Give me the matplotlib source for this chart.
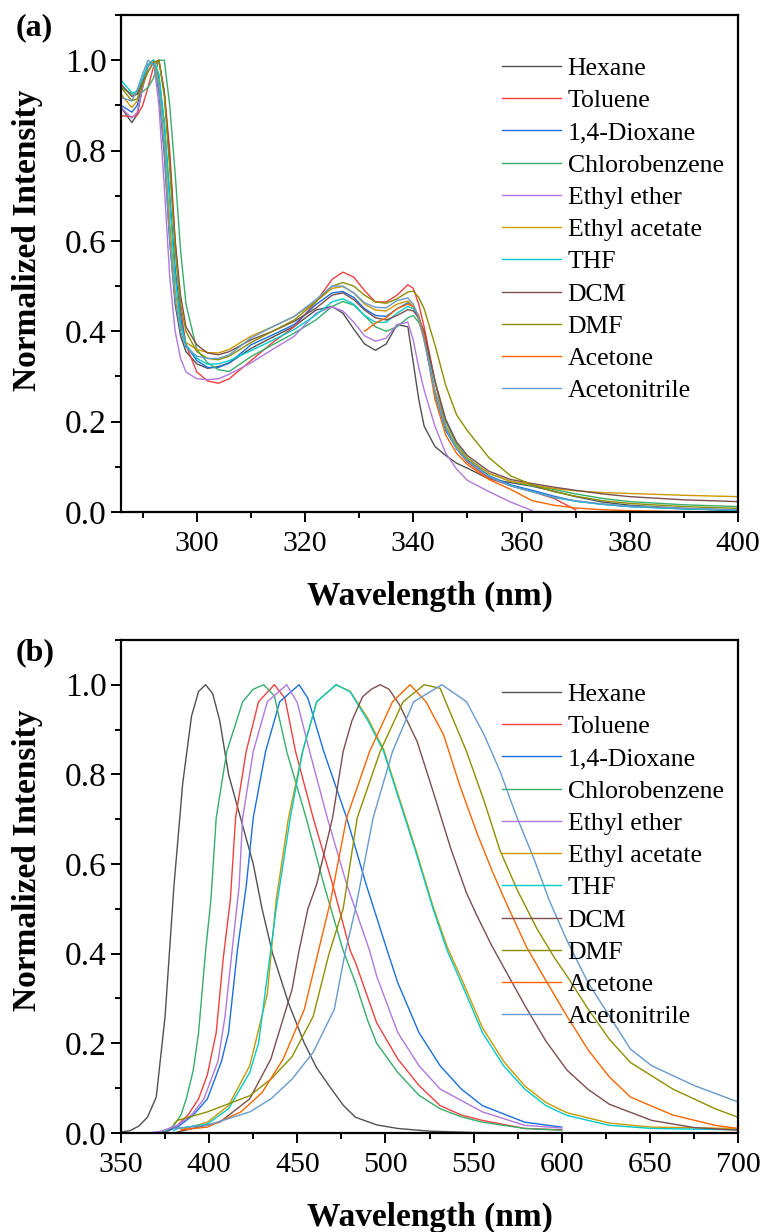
# -*- coding: utf-8 -*-

import numpy as np
import matplotlib
matplotlib.use('Agg')
import matplotlib.pyplot as plt
from matplotlib.ticker import MultipleLocator

plt.rcParams['font.family'] = ['Liberation Serif', 'DejaVu Serif']

nan = np.nan

solvents = ['Hexane', 'Toluene', '1,4-Dioxane', 'Chlorobenzene', 'Ethyl ether',
            'Ethyl acetate', 'THF', 'DCM', 'DMF', 'Acetone', 'Acetonitrile']
colors = ['#515151', '#F14040', '#1A6FDF', '#37AD6B', '#B177DE',
          '#CC9900', '#00CBCC', '#7D4E4E', '#8E8E00', '#FB6501', '#6699CC']

# (a) absorption, shared wavelength grid
wl_abs = [286, 288, 289, 290, 291, 292, 293, 294, 295, 296, 297, 298, 300, 302, 304,
          306, 310, 314, 318, 322, 325, 327, 329, 331, 333, 335, 337, 339, 340, 341,
          342, 344, 346, 348, 350, 354, 358, 362, 366, 370, 375, 380, 390, 400]

abs_hexane = [0.896, 0.862, 0.88, 0.94, 0.99, 1.0, 0.93, 0.79, 0.60, 0.46, 0.39, 0.355, 0.328, 0.318, 0.322,
              0.330, 0.362, 0.387, 0.411, 0.447, 0.455, 0.44, 0.405, 0.372, 0.358, 0.372, 0.415, 0.41, 0.33, 0.25,
              0.19, 0.145, 0.125, 0.108, 0.097, 0.073, 0.065, 0.057, 0.046, 0.034, 0.022, 0.015, 0.008, 0.003]
abs_toluene = [0.877, 0.875, 0.878, 0.90, 0.94, 0.985, 1.0, 0.93, 0.80, 0.60, 0.45, 0.37, 0.31, 0.29, 0.285,
               0.295, 0.335, 0.375, 0.41, 0.465, 0.515, 0.531, 0.52, 0.49, 0.465, 0.465, 0.48, 0.503, 0.495, 0.46,
               0.41, 0.29, 0.19, 0.14, 0.11, 0.075, 0.058, 0.045, 0.03, 0.005, nan, nan, nan, nan]
abs_dioxane = [0.90, 0.885, 0.90, 0.95, 0.99, 1.0, 0.96, 0.86, 0.70, 0.54, 0.43, 0.37, 0.335, 0.32, 0.32,
               0.33, 0.37, 0.392, 0.415, 0.459, 0.485, 0.488, 0.475, 0.45, 0.435, 0.433, 0.45, 0.463, 0.455, 0.43,
               0.39, 0.26, 0.18, 0.14, 0.115, 0.08, 0.06, 0.048, 0.035, 0.024, 0.017, 0.012, 0.007, 0.004]
abs_chlorobenzene = [0.94, 0.925, 0.925, 0.93, 0.94, 0.96, 1.0, 1.0, 0.90, 0.75, 0.58, 0.46, 0.36, 0.33, 0.315,
                     0.311, 0.344, 0.37, 0.396, 0.425, 0.455, 0.466, 0.458, 0.435, 0.41, 0.40, 0.41, 0.43, 0.435, 0.42,
                     0.39, 0.29, 0.20, 0.15, 0.12, 0.085, 0.068, 0.058, 0.05, 0.04, 0.03, 0.023, 0.016, 0.012]
abs_ether = [0.895, 0.872, 0.885, 0.94, 0.985, 1.0, 0.90, 0.72, 0.52, 0.40, 0.34, 0.31, 0.295, 0.293, 0.295,
             0.305, 0.33, 0.36, 0.389, 0.44, 0.454, 0.445, 0.42, 0.39, 0.378, 0.385, 0.415, 0.42, 0.38, 0.32,
             0.27, 0.19, 0.13, 0.095, 0.07, 0.045, 0.022, 0.003, nan, nan, nan, nan, nan, nan]
abs_acetate = [0.925, 0.895, 0.91, 0.96, 0.99, 1.0, 0.95, 0.82, 0.64, 0.49, 0.41, 0.375, 0.36, 0.353, 0.352,
               0.36, 0.389, 0.41, 0.433, 0.466, 0.495, 0.499, 0.485, 0.46, 0.447, 0.445, 0.46, 0.467, 0.455, 0.425,
               0.38, 0.27, 0.19, 0.145, 0.118, 0.085, 0.068, 0.06, 0.052, 0.047, 0.043, 0.041, 0.037, 0.034]
abs_thf = [0.956, 0.928, 0.93, 0.96, 0.99, 1.0, 0.97, 0.86, 0.69, 0.52, 0.42, 0.37, 0.34, 0.327, 0.328,
           0.335, 0.357, 0.38, 0.404, 0.436, 0.465, 0.472, 0.46, 0.435, 0.42, 0.42, 0.44, 0.455, 0.45, 0.43,
           0.39, 0.265, 0.185, 0.14, 0.113, 0.078, 0.058, 0.045, 0.032, 0.024, 0.017, 0.012, 0.007, 0.004]
abs_dcm = [0.947, 0.92, 0.925, 0.95, 0.975, 0.995, 1.0, 0.93, 0.78, 0.60, 0.48, 0.41, 0.37, 0.352, 0.348,
           0.355, 0.381, 0.40, 0.422, 0.451, 0.48, 0.485, 0.47, 0.447, 0.43, 0.425, 0.435, 0.448, 0.445, 0.43,
           0.40, 0.29, 0.205, 0.155, 0.125, 0.09, 0.072, 0.063, 0.055, 0.048, 0.04, 0.034, 0.027, 0.023]
abs_dmf = [0.94, 0.91, 0.915, 0.945, 0.975, 0.995, 1.0, 0.92, 0.76, 0.58, 0.46, 0.40, 0.355, 0.34, 0.337,
           0.345, 0.375, 0.40, 0.425, 0.465, 0.50, 0.508, 0.50, 0.48, 0.465, 0.462, 0.472, 0.487, 0.489, 0.475,
           0.45, 0.37, 0.28, 0.215, 0.18, 0.12, 0.08, 0.06, 0.045, 0.035, 0.025, 0.019, 0.012, 0.008]
abs_acetone = [nan, nan, nan, nan, nan, nan, nan, nan, nan, nan, nan, nan, nan, nan, nan,
               nan, nan, nan, nan, nan, nan, nan, nan, 0.40, 0.418, 0.43, 0.45, 0.46, 0.455, 0.435,
               0.39, 0.25, 0.17, 0.13, 0.105, 0.072, 0.05, 0.025, 0.015, 0.009, 0.005, 0.003, 0.001, 0.0]
abs_acetonitrile = [0.917, 0.91, 0.935, 0.97, 1.0, 0.99, 0.94, 0.80, 0.60, 0.47, 0.40, 0.365, 0.345, 0.34, 0.34,
                    0.348, 0.385, 0.41, 0.433, 0.47, 0.50, 0.50, 0.485, 0.463, 0.453, 0.452, 0.468, 0.474, 0.46, 0.43,
                    0.38, 0.265, 0.185, 0.14, 0.113, 0.078, 0.058, 0.045, 0.033, 0.025, 0.018, 0.013, 0.008, 0.005]

abs_all = [abs_hexane, abs_toluene, abs_dioxane, abs_chlorobenzene, abs_ether, abs_acetate,
           abs_thf, abs_dcm, abs_dmf, abs_acetone, abs_acetonitrile]

# (b) emission, each solvent with its own wavelength points
wl_hexane = [350, 355, 360, 365, 370, 375, 380, 385, 390, 394, 398, 402, 406, 411, 418, 425, 430, 436,
             445, 454, 461, 469, 476, 483, 495, 507, 525, 550, 575, 600]
pl_hexane = [0.002, 0.005, 0.015, 0.035, 0.08, 0.26, 0.55, 0.78, 0.93, 0.985, 1.0, 0.98, 0.92, 0.8, 0.7, 0.6, 0.5, 0.4,
             0.29, 0.2, 0.145, 0.1, 0.062, 0.035, 0.018, 0.01, 0.004, 0.001, 0.0, 0.0]
wl_toluene = [375, 382, 388, 394, 399, 404, 408, 412, 415, 421, 428, 437, 443, 449, 459, 470, 480, 483,
              495, 507, 519, 531, 543, 555, 579, 600]
pl_toluene = [0.0, 0.017, 0.04, 0.076, 0.13, 0.224, 0.39, 0.52, 0.703, 0.851, 0.962, 1.0, 0.97, 0.851, 0.703, 0.555, 0.407, 0.38,
              0.246, 0.165, 0.106, 0.061, 0.04, 0.028, 0.01, 0.007]
wl_dioxane = [370, 375, 382, 391, 399, 407, 411, 416, 421, 425, 432, 440, 451, 456, 465, 478, 489, 501,
              507, 519, 531, 543, 555, 579, 600]
pl_dioxane = [0.0, 0.003, 0.013, 0.04, 0.076, 0.16, 0.224, 0.407, 0.55, 0.703, 0.851, 0.962, 1.0, 0.97, 0.851, 0.703, 0.555, 0.407,
              0.335, 0.224, 0.15, 0.098, 0.061, 0.024, 0.013]
wl_chlorobenzene = [370, 376, 380, 384, 387, 391, 394, 398, 401, 404, 410, 419, 425, 431, 437, 444, 450, 455,
                    465, 476, 483, 490, 495, 507, 519, 531, 543, 555, 579, 600]
pl_chlorobenzene = [0.0, 0.005, 0.017, 0.04, 0.076, 0.14, 0.224, 0.407, 0.52, 0.703, 0.851, 0.962, 0.99, 1.0, 0.975, 0.851, 0.77, 0.703,
                    0.555, 0.407, 0.335, 0.25, 0.2, 0.135, 0.084, 0.054, 0.036, 0.024, 0.01, 0.006]
wl_ether = [365, 372, 382, 390, 397, 405, 409, 413, 417, 419, 425, 433, 444, 450, 457, 467, 478, 491,
            495, 507, 519, 531, 555, 579, 600]
pl_ether = [0.0, 0.003, 0.017, 0.04, 0.076, 0.16, 0.26, 0.407, 0.55, 0.703, 0.851, 0.962, 1.0, 0.96, 0.851, 0.703, 0.555, 0.407,
            0.35, 0.224, 0.15, 0.098, 0.047, 0.017, 0.011]
wl_acetate = [384, 399, 411, 423, 433, 438, 445, 453, 461, 472, 480, 490, 499, 508, 517, 527, 535, 543,
              555, 567, 579, 591, 603, 627, 651, 700]
pl_acetate = [0.007, 0.024, 0.061, 0.15, 0.31, 0.52, 0.703, 0.851, 0.962, 1.0, 0.985, 0.925, 0.855, 0.745, 0.635, 0.505, 0.415, 0.345,
              0.235, 0.16, 0.105, 0.068, 0.045, 0.022, 0.013, 0.01]
wl_thf = [380, 382, 399, 411, 423, 428, 433, 438, 446, 453, 461, 472, 480, 490, 499, 508, 517, 527,
          535, 543, 555, 567, 579, 591, 603, 627, 651, 700]
pl_thf = [0.005, 0.01, 0.02, 0.054, 0.135, 0.2, 0.35, 0.5, 0.703, 0.851, 0.962, 1.0, 0.984, 0.92, 0.851, 0.74, 0.63, 0.5,
          0.407, 0.335, 0.224, 0.15, 0.098, 0.061, 0.039, 0.017, 0.01, 0.007]
wl_dcm = [382, 406, 423, 435, 447, 451, 456, 461, 470, 476, 481, 487, 492, 497, 502, 508, 518, 527,
          537, 546, 552, 560, 567, 579, 591, 603, 615, 627, 651, 675, 700]
pl_dcm = [0.002, 0.024, 0.076, 0.165, 0.32, 0.407, 0.5, 0.555, 0.703, 0.851, 0.92, 0.973, 0.99, 1.0, 0.99, 0.955, 0.873, 0.762,
          0.635, 0.535, 0.484, 0.42, 0.37, 0.285, 0.205, 0.14, 0.097, 0.064, 0.028, 0.012, 0.006]
wl_dmf = [380, 382, 399, 423, 435, 447, 459, 468, 476, 484, 497, 510, 522, 531, 546, 556, 565, 575,
          586, 596, 603, 615, 627, 639, 663, 687, 700]
pl_dmf = [0.02, 0.028, 0.047, 0.083, 0.12, 0.17, 0.26, 0.4, 0.5, 0.703, 0.851, 0.962, 1.0, 0.992, 0.851, 0.74, 0.63, 0.54,
          0.455, 0.39, 0.35, 0.276, 0.209, 0.157, 0.098, 0.054, 0.035]
wl_acetone = [384, 399, 418, 430, 442, 454, 461, 469, 478, 491, 504, 514, 523, 533, 542, 552, 561, 570,
              580, 591, 603, 615, 627, 639, 663, 687, 700]
pl_acetone = [0.007, 0.013, 0.047, 0.09, 0.165, 0.276, 0.39, 0.52, 0.703, 0.851, 0.962, 1.0, 0.962, 0.888, 0.777, 0.668, 0.58, 0.5,
              0.415, 0.34, 0.26, 0.185, 0.125, 0.08, 0.04, 0.017, 0.01]
wl_acetonitrile = [380, 399, 423, 435, 447, 459, 471, 477, 483, 493, 504, 516, 532, 546, 556, 565, 574, 584,
                   593, 603, 615, 627, 639, 651, 675, 700]
pl_acetonitrile = [0.01, 0.017, 0.047, 0.076, 0.12, 0.18, 0.276, 0.4, 0.5, 0.703, 0.851, 0.962, 1.0, 0.962, 0.888, 0.807, 0.71, 0.614,
                   0.518, 0.429, 0.335, 0.261, 0.187, 0.15, 0.106, 0.069]

wl_pl_all = [wl_hexane, wl_toluene, wl_dioxane, wl_chlorobenzene, wl_ether, wl_acetate,
             wl_thf, wl_dcm, wl_dmf, wl_acetone, wl_acetonitrile]
pl_all = [pl_hexane, pl_toluene, pl_dioxane, pl_chlorobenzene, pl_ether, pl_acetate,
          pl_thf, pl_dcm, pl_dmf, pl_acetone, pl_acetonitrile]

fig = plt.figure(figsize=(7.63, 12.32), dpi=100)
ax1 = fig.add_axes([0.1586, 0.5844, 0.8087, 0.4034])
ax2 = fig.add_axes([0.1586, 0.0804, 0.8087, 0.4002])

for name, c, y in zip(solvents, colors, abs_all):
    ax1.plot(wl_abs, y, c=c, lw=1.0, label=name)
for name, c, x, y in zip(solvents, colors, wl_pl_all, pl_all):
    ax2.plot(x, y, c=c, lw=1.0, label=name)

ax1.set_xlim(286, 400)
ax1.xaxis.set_major_locator(MultipleLocator(20))
ax1.xaxis.set_minor_locator(MultipleLocator(10))
ax2.set_xlim(350, 700)
ax2.xaxis.set_major_locator(MultipleLocator(50))
ax2.xaxis.set_minor_locator(MultipleLocator(25))

for ax, lab, ly, legy in [(ax1, '(a)', 0.547, 0.9155), (ax2, '(b)', 0.554, 0.9128)]:
    ax.set_ylim(0, 1.1)
    ax.yaxis.set_major_locator(MultipleLocator(0.2))
    ax.yaxis.set_minor_locator(MultipleLocator(0.1))
    ax.yaxis.set_major_formatter(plt.FormatStrFormatter('%.1f'))
    for s in ax.spines.values():
        s.set_linewidth(1.6)
    ax.tick_params(which='both', direction='out', top=False, right=False, width=1.4)
    ax.tick_params(axis='x', labelsize=21.5, pad=6.5)
    ax.tick_params(axis='y', labelsize=24)
    ax.tick_params(which='major', length=7)
    ax.tick_params(which='minor', length=4)
    ax.set_xlabel('Wavelength (nm)', fontsize=24, fontweight='bold', labelpad=17)
    ax.set_ylabel('Normalized Intensity', fontsize=24, fontweight='bold')
    ax.yaxis.set_label_coords(-0.126, ly)
    ax.text(-0.17, 0.975, lab, transform=ax.transAxes, fontsize=23, fontweight='bold',
            ha='left', va='center')
    ax.legend(loc='upper left', bbox_to_anchor=(0.6175, legy), frameon=False, fontsize=18.5,
              handlelength=2.3, handletextpad=0.25, labelspacing=0.36, borderpad=0, borderaxespad=0)

fig.savefig('out.png', dpi=100)
